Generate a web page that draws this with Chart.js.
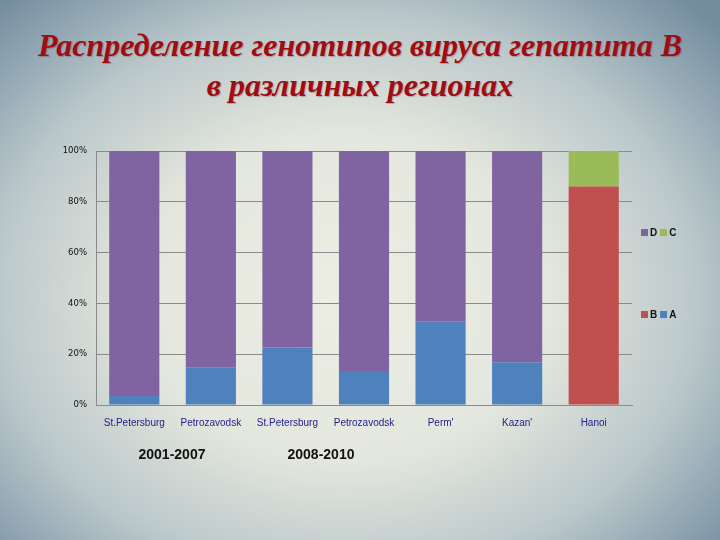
<!DOCTYPE html>
<html><head><meta charset="utf-8">
<script src="https://cdn.jsdelivr.net/npm/chart.js@4/dist/chart.umd.min.js"></script>
<style>
html,body{margin:0;padding:0;}
body{width:720px;height:540px;position:relative;overflow:hidden;
background:radial-gradient(ellipse 70% 75% at 48% 55%, #eceee4 0%, #e4e7dd 40%, #bac7ca 70%, #8aa0ae 90%, #738c9e 100%);
font-family:"Liberation Sans",Arial,sans-serif;}
#title{position:absolute;left:0;top:25px;width:720px;text-align:center;
font-family:"Liberation Serif","Times New Roman",serif;font-weight:bold;font-style:italic;
font-size:32px;line-height:40px;color:#a00c14;text-shadow:1px 1px 1px rgba(90,0,0,0.25);}
#wrap{position:absolute;left:0;top:0;width:720px;height:540px;}
.yr{position:absolute;top:446px;font-weight:bold;font-size:14px;color:#111;width:100px;text-align:center;}
.lg{position:absolute;font-size:10px;font-weight:bold;color:#111;display:flex;align-items:center;}
.lg span.sw{display:inline-block;width:7px;height:7px;margin-right:2px;}
.lg span.t{margin-right:3px;}
</style></head>
<body>
<div id="title">Распределение генотипов вируса гепатита В<br>в различных регионах</div>
<div id="wrap"><canvas id="c" width="720" height="540"></canvas></div>
<div class="yr" style="left:122px">2001-2007</div>
<div class="yr" style="left:271px">2008-2010</div>
<div class="lg" style="left:641px;top:227px"><span class="sw" style="background:#8064a2"></span><span class="t">D</span><span class="sw" style="background:#9bbb59"></span><span class="t">C</span></div>
<div class="lg" style="left:641px;top:309px"><span class="sw" style="background:#c0504d"></span><span class="t">B</span><span class="sw" style="background:#4f81bd"></span><span class="t">A</span></div>
<script>
const categories = ["St.Petersburg","Petrozavodsk","St.Petersburg","Petrozavodsk","Perm'","Kazan'","Hanoi"];
const seriesA = [3.5, 14.7, 22.6, 13.4, 32.8, 16.8, 0];
const seriesB = [0, 0, 0, 0, 0, 0, 86];
const seriesC = [0, 0, 0, 0, 0, 0, 14];
const seriesD = [96.5, 85.3, 77.4, 86.6, 67.2, 83.2, 0];
const yTicks = [0, 20, 40, 60, 80, 100];

new Chart(document.getElementById('c'), {
  type: 'bar',
  data: {
    labels: categories,
    datasets: [
      {label:'A', data: seriesA, backgroundColor:'#4f81bd'},
      {label:'B', data: seriesB, backgroundColor:'#c0504d'},
      {label:'C', data: seriesC, backgroundColor:'#9bbb59'},
      {label:'D', data: seriesD, backgroundColor:'#8064a2'}
    ]
  },
  options: {
    responsive:false, animation:false,
    layout:{padding:{left:0,right:88,top:151,bottom:0}},
    plugins:{legend:{display:false},tooltip:{enabled:false}},
    datasets:{bar:{barPercentage:0.655,categoryPercentage:1,borderWidth:0}},
    scales:{
      x:{stacked:true,
        grid:{display:false,drawTicks:false},
        border:{display:true,color:'#8a8a8a',width:1},
        ticks:{color:'#22228c',font:{family:'"Liberation Sans", Arial',size:10},padding:12,maxRotation:0,autoSkip:false},
        afterFit:(s)=>{s.height=135;}
      },
      y:{stacked:true,min:0,max:100,
        afterBuildTicks:(s)=>{s.ticks=yTicks.map(v=>({value:v}));},
        grid:{color:'#8a8a8a',lineWidth:1,drawTicks:false},
        border:{display:true,color:'#8a8a8a',width:1},
        ticks:{color:'#111',font:{family:'"DejaVu Sans", Arial',size:8.5},padding:9,callback:(v)=>v+'%'},
        afterFit:(s)=>{s.width=96;}
      }
    }
  }
});
</script>
</body></html>
